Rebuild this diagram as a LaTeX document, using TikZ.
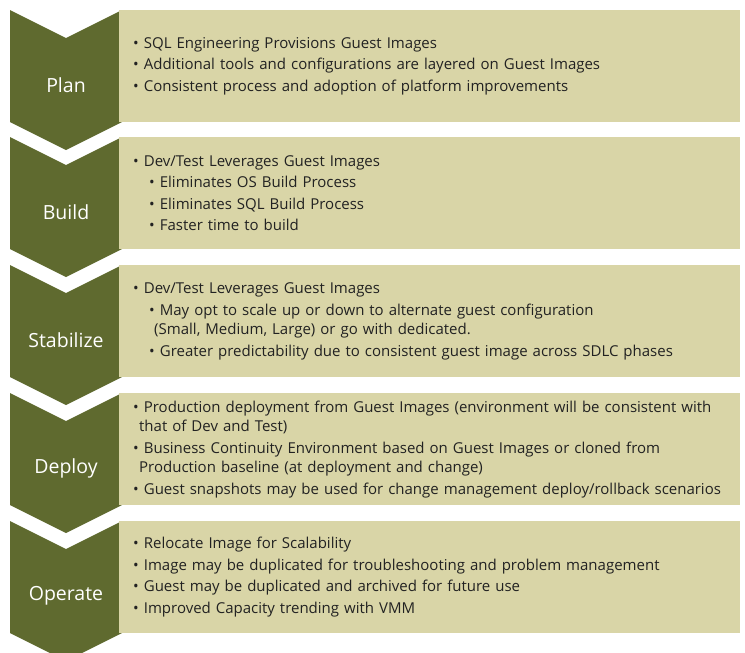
\documentclass[tikz,border=0pt]{standalone}
\usepackage{fontspec}
\setmainfont{Open Sans}
\usepackage{xcolor}
\usepackage{tikz}
\usetikzlibrary{positioning}
\definecolor{phaseolive}{HTML}{5F6A2F}
\definecolor{phasetan}{HTML}{D9D5A7}
\definecolor{phasetext}{HTML}{222222}
\newcommand{\topbul}{\textbullet\ }
\newcommand{\subbul}{\hspace*{16pt}\textbullet\ }

\begin{document}
\begin{tikzpicture}[x=1pt, y=-1pt,
  every node/.style={font=\fontsize{15}{19.5}\selectfont},
  chevron/.style={fill=phaseolive},
  phaselabel/.style={text=white, font=\fontsize{19.5}{22}\selectfont},
  infobox/.style={fill=phasetan, anchor=north west, minimum width=621pt, minimum height=112pt, text width=593pt, inner xsep=14pt, inner ysep=0pt, align=left, text=phasetext}]
  \useasboundingbox (0,0) rectangle (745,653);
  \clip (0,0) rectangle (745,653);

  \fill[chevron] (10,10) -- (66,38) -- (122,10) -- (122,122) -- (66,150) -- (10,122) -- cycle;
  \fill[chevron] (10,137) -- (66,165) -- (122,137) -- (122,249) -- (66,277) -- (10,249) -- cycle;
  \fill[chevron] (10,265) -- (66,293) -- (122,265) -- (122,377) -- (66,405) -- (10,377) -- cycle;
  \fill[chevron] (10,393) -- (66,421) -- (122,393) -- (122,505) -- (66,533) -- (10,505) -- cycle;
  \fill[chevron] (10,521) -- (66,549) -- (122,521) -- (122,633) -- (66,661) -- (10,633) -- cycle;

  \node[phaselabel] (plan) at (66,85) {Plan};
  \node[phaselabel] (build) at (66,212) {Build};
  \node[phaselabel] (stabilize) at (66,340) {Stabilize};
  \node[phaselabel] (deploy) at (66,468) {Deploy};
  \node[phaselabel] (operate) at (66,596) {Operate};

  \node[infobox] (planbox) at (119,10) {\topbul SQL Engineering Provisions Guest Images\\[2pt]
    \topbul Additional tools and configurations are layered on Guest Images\\[2pt]
    \topbul Consistent process and adoption of platform improvements};
  \node[infobox] (buildbox) at (119,137) {\topbul Dev/Test Leverages Guest Images\\[2pt]
    \subbul Eliminates OS Build Process\\[2pt]
    \subbul Eliminates SQL Build Process\\[2pt]
    \subbul Faster time to build};
  \node[infobox] (stabilizebox) at (119,265) {\topbul Dev/Test Leverages Guest Images\\[2pt]
    \subbul May opt to scale up or down to alternate guest configuration\\
    \hspace*{21pt}(Small, Medium, Large) or go with dedicated.\\[2pt]
    \subbul Greater predictability due to consistent guest image across SDLC phases};
  \node[infobox] (deploybox) at (119,393) {\topbul Production deployment from Guest Images (environment will be consistent with\\
    \hspace*{6pt}that of Dev and Test)\\[2pt]
    \topbul Business Continuity Environment based on Guest Images or cloned from\\
    \hspace*{6pt}Production baseline (at deployment and change)\\[2pt]
    \topbul Guest snapshots may be used for change management deploy/rollback scenarios};
  \node[infobox] (operatebox) at (119,521) {\topbul Relocate Image for Scalability\\[2pt]
    \topbul Image may be duplicated for troubleshooting and problem management\\[2pt]
    \topbul Guest may be duplicated and archived for future use\\[2pt]
    \topbul Improved Capacity trending with VMM};
\end{tikzpicture}
\end{document}
